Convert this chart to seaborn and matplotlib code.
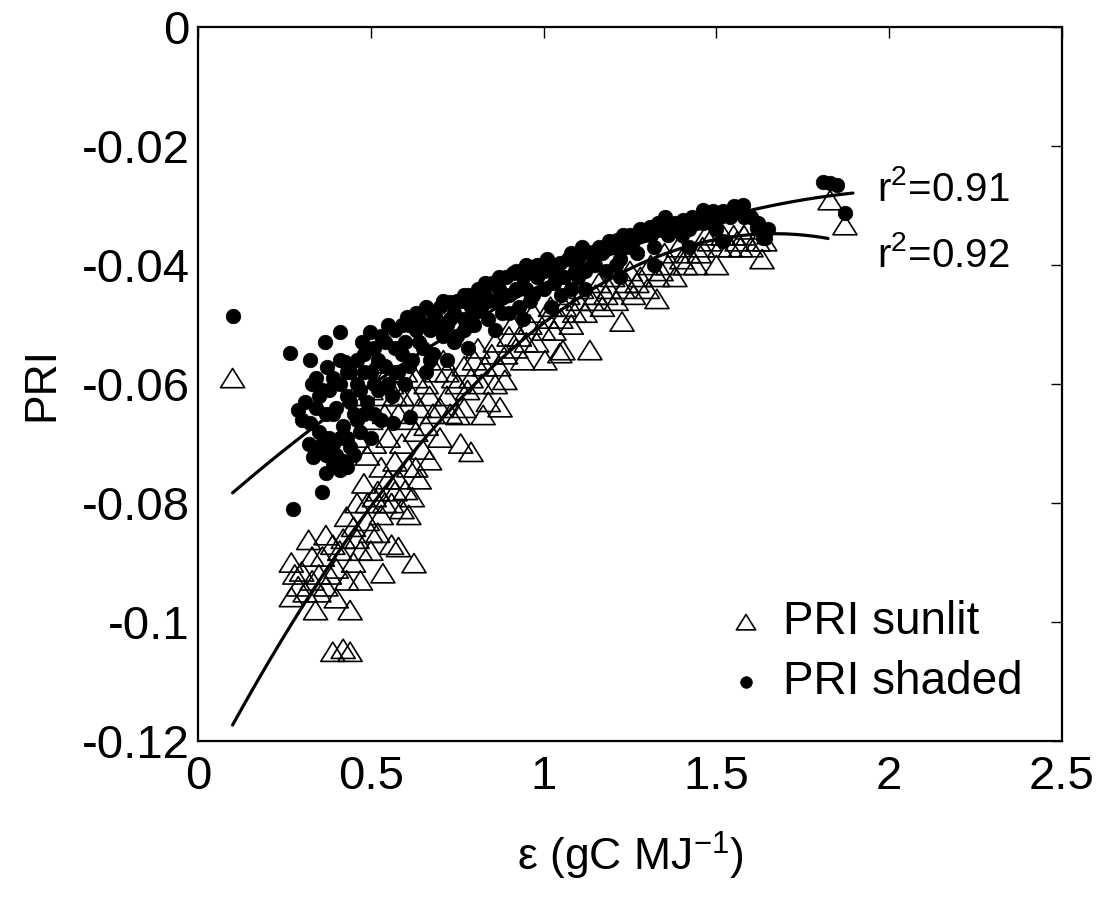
import numpy as np
import pandas as pd
import matplotlib
matplotlib.use("Agg")
import matplotlib.pyplot as plt
from matplotlib.path import Path
import seaborn as sns

# ---------------- data ----------------
sunlit_x = [0.10,
            0.27, 0.27, 0.29, 0.30, 0.32, 0.33, 0.34, 0.35, 0.36, 0.37, 0.38, 0.39, 0.40, 0.41,
            0.42, 0.43, 0.44, 0.44, 0.45, 0.46, 0.47, 0.48, 0.49, 0.50, 0.51, 0.52, 0.535, 0.54,
            0.56, 0.57, 0.58, 0.60, 0.61, 0.625, 0.64, 0.67,
            0.45, 0.48, 0.50, 0.52, 0.53, 0.55, 0.56, 0.58, 0.59, 0.60, 0.62, 0.63, 0.65, 0.66,
            0.68, 0.70, 0.71, 0.72, 0.74, 0.752, 0.76, 0.79, 0.78, 0.80, 0.82, 0.825, 0.84, 0.85,
            0.87, 0.874, 0.888, 0.90, 0.92, 0.94, 0.96, 0.98, 1.004, 1.01, 1.03, 1.047, 1.056,
            1.06, 1.08, 1.10, 1.12, 1.134, 1.15, 1.17, 1.19, 1.21, 1.227, 1.24, 1.26, 1.28, 1.30,
            1.328, 1.34, 1.36, 1.38, 1.40, 1.42, 1.44, 1.46, 1.48, 1.50, 1.52, 1.54, 1.56, 1.58,
            1.60, 1.632, 1.64, 1.829, 1.872,
            0.46, 0.49, 0.50, 0.51, 0.53, 0.54, 0.55, 0.57, 0.57, 0.59, 0.61, 0.61, 0.63, 0.64,
            0.66, 0.67, 0.69, 0.70, 0.72, 0.73, 0.75, 0.77, 0.77, 0.79, 0.81, 0.83, 0.86, 0.86,
            0.89, 0.91, 0.93, 0.95, 0.97, 1.00, 1.02, 1.05, 1.07, 1.09, 1.11, 1.14, 1.16, 1.18,
            1.20, 1.23, 1.25, 1.27, 1.31, 1.33, 1.35, 1.39, 1.41, 1.45, 1.47, 1.51, 1.55, 1.57,
            1.59, 1.62,
            0.28, 0.31, 0.33, 0.35, 0.37, 0.39, 0.40, 0.42, 0.43, 0.45, 0.46, 0.47, 0.49, 0.50,
            0.52, 0.53, 0.55, 0.56, 0.58, 0.59, 0.62, 0.63]
sunlit_y = [-0.0590,
            -0.0900, -0.0958, -0.0940, -0.0915, -0.0862, -0.0930, -0.0980, -0.0950, -0.0890,
            -0.0854, -0.0920, -0.1050, -0.0960, -0.0880, -0.1045, -0.0823, -0.0980, -0.1050,
            -0.0900, -0.0860, -0.0930, -0.0767, -0.0830, -0.0880, -0.0790, -0.0850, -0.0918,
            -0.0800, -0.0870, -0.0780, -0.0874, -0.0778, -0.0820, -0.0901, -0.0760, -0.0728,
            -0.0620, -0.0590, -0.0660, -0.0565, -0.0620, -0.0690, -0.0600, -0.0650, -0.0700,
            -0.0580, -0.0620, -0.0680, -0.0710, -0.0600, -0.0650, -0.0690, -0.0560, -0.0620,
            -0.0590, -0.0652, -0.0700, -0.0714, -0.0610, -0.0560, -0.0600, -0.0652, -0.0630,
            -0.0550, -0.0570, -0.0639, -0.0593, -0.0520, -0.0540, -0.0560, -0.0500, -0.0530,
            -0.0560, -0.0490, -0.0510, -0.0548, -0.0543, -0.0470, -0.0500, -0.0460, -0.0480,
            -0.0543, -0.0450, -0.0470, -0.0440, -0.0460, -0.0495, -0.0430, -0.0450, -0.0420,
            -0.0440, -0.0457, -0.0410, -0.0400, -0.0420, -0.0390, -0.0380, -0.0400, -0.0370,
            -0.0360, -0.0400, -0.0350, -0.0370, -0.0360, -0.0350, -0.0370, -0.0390, -0.0360,
            -0.0291, -0.0333,
            -0.0690, -0.0720, -0.0610, -0.0700, -0.0740, -0.0650, -0.0580, -0.0620, -0.0730,
            -0.0620, -0.0660, -0.0740, -0.0590, -0.0640, -0.0670, -0.0620, -0.0580, -0.0640,
            -0.0580, -0.0650, -0.0600, -0.0570, -0.0640, -0.0590, -0.0540, -0.0570, -0.0530,
            -0.0600, -0.0550, -0.0500, -0.0520, -0.0530, -0.0480, -0.0510, -0.0470, -0.0490,
            -0.0450, -0.0480, -0.0440, -0.0460, -0.0430, -0.0450, -0.0420, -0.0440, -0.0410,
            -0.0430, -0.0400, -0.0420, -0.0380, -0.0370, -0.0400, -0.0380, -0.0350, -0.0370,
            -0.0350, -0.0370, -0.0340, -0.0360,
            -0.0920, -0.0950, -0.0890, -0.0920, -0.0940, -0.0870, -0.0910, -0.0860, -0.0930,
            -0.0840, -0.0800, -0.0880, -0.0800, -0.0850, -0.0780, -0.0820, -0.0760, -0.0800,
            -0.0760, -0.0810, -0.0790, -0.0740]

shaded_x = [0.10, 0.266, 0.275, 0.358, 0.29,
            0.324, 0.367, 0.411, 0.373, 0.425, 0.475, 0.498, 0.324, 0.333, 0.39, 0.44,
            0.31, 0.33, 0.34, 0.35, 0.35, 0.36, 0.37, 0.38, 0.38, 0.39, 0.40, 0.40, 0.41,
            0.42, 0.42, 0.43, 0.44, 0.45, 0.45, 0.46, 0.47, 0.47, 0.48, 0.49, 0.50, 0.50,
            0.51, 0.52, 0.53, 0.53, 0.54, 0.55, 0.56, 0.57, 0.58, 0.59, 0.60, 0.605, 0.62,
            0.63, 0.64, 0.65, 0.66, 0.67, 0.68, 0.69, 0.70, 0.71, 0.72, 0.729, 0.74, 0.75,
            0.76, 0.77, 0.78, 0.79, 0.80, 0.81, 0.82, 0.83, 0.84, 0.85, 0.86, 0.87, 0.88,
            0.89, 0.90, 0.911, 0.92, 0.93, 0.94, 0.95, 0.96, 0.97, 0.98, 0.99, 1.00, 1.02,
            1.03, 1.047, 1.06, 1.07, 1.08, 1.09, 1.10, 1.12, 1.13, 1.143, 1.15, 1.17, 1.18,
            1.20, 1.212, 1.22, 1.24, 1.25, 1.27, 1.29, 1.308, 1.32, 1.34, 1.36, 1.38, 1.403,
            1.42, 1.44, 1.461, 1.48, 1.50, 1.52, 1.54, 1.56, 1.577, 1.60, 1.617, 1.635,
            1.808, 1.849, 1.872,
            0.60, 0.66, 0.72, 0.78, 0.86, 0.94, 1.02, 1.12, 1.22, 1.32, 1.42, 1.52,
            0.613, 0.565, 0.43, 0.41, 0.37,
            0.30, 0.32, 0.34, 0.34, 0.36, 0.37, 0.39, 0.39, 0.41, 0.41, 0.43, 0.43, 0.44,
            0.46, 0.46, 0.48, 0.48, 0.49, 0.51, 0.51, 0.52, 0.54, 0.55, 0.57, 0.57, 0.59,
            0.61, 0.61, 0.63, 0.64, 0.66, 0.67, 0.68, 0.70, 0.71, 0.73, 0.74, 0.75, 0.77,
            0.77, 0.80, 0.80, 0.83, 0.84, 0.87, 0.88, 0.90, 0.92, 0.95, 0.96, 0.98, 1.00,
            1.01, 1.04, 1.05, 1.08, 1.10, 1.11, 1.14, 1.16, 1.19, 1.21, 1.23, 1.26, 1.28,
            1.31, 1.33, 1.35, 1.37, 1.40, 1.43, 1.46, 1.49, 1.51, 1.55, 1.58, 1.62, 1.65,
            1.64, 1.83]
shaded_y = [-0.0485, -0.0548, -0.0810, -0.0781, -0.0644,
            -0.0560, -0.0529, -0.0513, -0.0571, -0.0563, -0.0529, -0.0513, -0.0666, -0.0723,
            -0.0733, -0.0706,
            -0.0630, -0.0600, -0.0640, -0.0620, -0.0680, -0.0700, -0.0650, -0.0610, -0.0690,
            -0.0590, -0.0640, -0.0720, -0.0600, -0.0670, -0.0730, -0.0620, -0.0580, -0.0650,
            -0.0720, -0.0560, -0.0610, -0.0680, -0.0550, -0.0630, -0.0580, -0.0690, -0.0540,
            -0.0610, -0.0520, -0.0660, -0.0570, -0.0500, -0.0620, -0.0540, -0.0580, -0.0500,
            -0.0530, -0.0487, -0.0560, -0.0510, -0.0490, -0.0540, -0.0470, -0.0510, -0.0550,
            -0.0490, -0.0470, -0.0520, -0.0500, -0.0462, -0.0480, -0.0520, -0.0460, -0.0490,
            -0.0450, -0.0470, -0.0500, -0.0440, -0.0470, -0.0450, -0.0490, -0.0430, -0.0460,
            -0.0440, -0.0480, -0.0420, -0.0450, -0.0413, -0.0440, -0.0470, -0.0420, -0.0440,
            -0.0410, -0.0450, -0.0420, -0.0400, -0.0440, -0.0410, -0.0430, -0.0397, -0.0420,
            -0.0390, -0.0440, -0.0410, -0.0390, -0.0410, -0.0380, -0.0378, -0.0400, -0.0380,
            -0.0410, -0.0370, -0.0358, -0.0390, -0.0370, -0.0350, -0.0380, -0.0350, -0.0336,
            -0.0370, -0.0340, -0.0350, -0.0330, -0.0324, -0.0340, -0.0330, -0.0308, -0.0320,
            -0.0340, -0.0310, -0.0320, -0.0310, -0.0299, -0.0320, -0.0338, -0.0355,
            -0.0260, -0.0266, -0.0313,
            -0.0600, -0.0580, -0.0560, -0.0540, -0.0510, -0.0490, -0.0470, -0.0440, -0.0420,
            -0.0400, -0.0370, -0.0360,
            -0.0655, -0.0666, -0.0740, -0.0745, -0.0750,
            -0.0660, -0.0700, -0.0590, -0.0710, -0.0610, -0.0720, -0.0650, -0.0700, -0.0560,
            -0.0690, -0.0580, -0.0690, -0.0630, -0.0600, -0.0660, -0.0580, -0.0650, -0.0540,
            -0.0600, -0.0650, -0.0560, -0.0530, -0.0600, -0.0510, -0.0580, -0.0550, -0.0500,
            -0.0570, -0.0480, -0.0530, -0.0500, -0.0560, -0.0480, -0.0500, -0.0460, -0.0490,
            -0.0530, -0.0460, -0.0450, -0.0510, -0.0450, -0.0480, -0.0430, -0.0460, -0.0420,
            -0.0450, -0.0480, -0.0410, -0.0400, -0.0460, -0.0400, -0.0410, -0.0390, -0.0400,
            -0.0450, -0.0380, -0.0420, -0.0370, -0.0400, -0.0370, -0.0360, -0.0400, -0.0350,
            -0.0360, -0.0340, -0.0350, -0.0330, -0.0320, -0.0340, -0.0350, -0.0320, -0.0330,
            -0.0310, -0.0320, -0.0300, -0.0320, -0.0330, -0.0340, -0.0355, -0.0262]

# points read on the two fitted curves (quadratic fits)
sunlit_fit_x = [0.10, 0.547, 0.98, 1.646, 1.823]
sunlit_fit_y = [-0.1176, -0.0761, -0.0514, -0.0345, -0.0356]
shaded_fit_x = [0.10, 0.315, 1.577, 1.895]
shaded_fit_y = [-0.0783, -0.0681, -0.0311, -0.0279]

r2_labels = ["r$^2$=0.91", "r$^2$=0.92"]
x_ticks = [0, 0.5, 1, 1.5, 2, 2.5]
x_ticklabels = ["0", "0.5", "1", "1.5", "2", "2.5"]
y_ticks = [0, -0.02, -0.04, -0.06, -0.08, -0.1, -0.12]
y_ticklabels = ["0", "-0.02", "-0.04", "-0.06", "-0.08", "-0.1", "-0.12"]

# ---------------- styling ----------------
sns.set_theme(style="white")
plt.rcParams["font.family"] = ["Liberation Sans", "DejaVu Sans"]
plt.rcParams["mathtext.fontset"] = "custom"
plt.rcParams["mathtext.rm"] = "Liberation Sans"
plt.rcParams["mathtext.it"] = "Liberation Sans:italic"
plt.rcParams["axes.unicode_minus"] = False
plt.rcParams["text.color"] = "black"
plt.rcParams["axes.labelcolor"] = "black"
plt.rcParams["xtick.color"] = "black"
plt.rcParams["ytick.color"] = "black"

fig = plt.figure(figsize=(10.99, 8.98), dpi=100)
ax = fig.add_axes([0.1802, 0.1748, 0.7861, 0.7951])

tri = Path([(0, 0.8), (-1, -0.8), (1, -0.8), (0, 0.8)],
           [Path.MOVETO, Path.LINETO, Path.LINETO, Path.CLOSEPOLY])

sun_df = pd.DataFrame({"x": sunlit_x, "y": sunlit_y})
sha_df = pd.DataFrame({"x": shaded_x, "y": shaded_y})

sns.scatterplot(data=sha_df, x="x", y="y", ax=ax, marker="o", s=110,
                color="black", edgecolor="black", linewidth=0.5,
                label="PRI shaded", zorder=2)
sns.scatterplot(data=sun_df, x="x", y="y", ax=ax, marker=tri, s=300,
                facecolor="none", edgecolor="black", linewidth=1.2,
                label="PRI sunlit", zorder=3)

# fitted curves
cs = np.polyfit(sunlit_fit_x, sunlit_fit_y, 2)
ch = np.polyfit(shaded_fit_x, shaded_fit_y, 2)
xs = np.linspace(min(sunlit_fit_x), max(sunlit_fit_x), 200)
xh = np.linspace(min(shaded_fit_x), max(shaded_fit_x), 200)
sns.lineplot(x=xs, y=np.polyval(cs, xs), ax=ax, color="black", lw=2.3, zorder=4)
sns.lineplot(x=xh, y=np.polyval(ch, xh), ax=ax, color="black", lw=2.3, zorder=4)

ax.text(1.965, -0.0292, r2_labels[0], fontsize=29, ha="left", va="baseline")
ax.text(1.965, -0.0403, r2_labels[1], fontsize=29, ha="left", va="baseline")

ax.set_xlim(0, 2.5)
ax.set_ylim(-0.12, 0)
ax.set_xticks(x_ticks)
ax.set_xticklabels(x_ticklabels)
ax.set_yticks(y_ticks)
ax.set_yticklabels(y_ticklabels)
ax.tick_params(direction="in", length=8, width=1, top=True, right=True,
               labelsize=34, pad=10, colors="black")
ax.tick_params(axis="y", pad=6)
for sp in ax.spines.values():
    sp.set_color("black")
    sp.set_linewidth(1.6)

ax.set_xlabel("ε (gC MJ$^{-1}$)", fontsize=32, labelpad=22)
ax.set_ylabel("PRI", fontsize=32, labelpad=14)

h, l = ax.get_legend_handles_labels()
order = [l.index("PRI sunlit"), l.index("PRI shaded")]
leg = ax.legend([h[i] for i in order], [l[i] for i in order], frameon=False,
                loc="upper left", bbox_to_anchor=(0.56, 0.255), fontsize=33,
                handlelength=1.0, handletextpad=0.3, labelspacing=0.35,
                markerscale=0.8)
for t in leg.get_texts():
    t.set_color("black")

fig.savefig("out.png", dpi=100)
